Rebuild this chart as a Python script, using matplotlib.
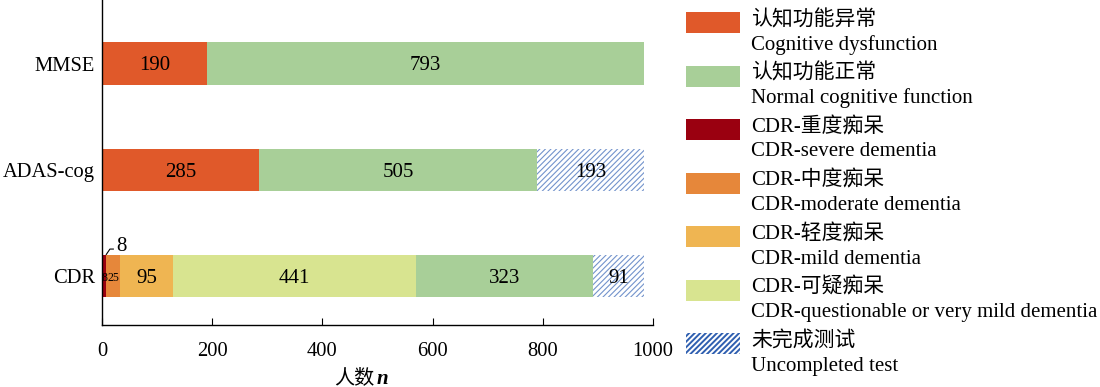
import matplotlib
matplotlib.use("Agg")
import matplotlib.pyplot as plt
from matplotlib.patches import Rectangle
import numpy as np

plt.rcParams['font.family'] = ['Liberation Serif', 'Noto Sans CJK SC']
plt.rcParams['hatch.linewidth'] = 0.8

tests = ["CDR", "ADAS-cog", "MMSE"]
categories_cn = ["认知功能异常", "认知功能正常", "CDR-重度痴呆", "CDR-中度痴呆",
                 "CDR-轻度痴呆", "CDR-可疑痴呆", "未完成测试"]
categories_en = ["Cognitive dysfunction", "Normal cognitive function", "CDR-severe dementia",
                 "CDR-moderate dementia", "CDR-mild dementia",
                 "CDR-questionable or very mild dementia", "Uncompleted test"]
colors = ["#E0592A", "#A8CF98", "#9A0010", "#E6873A", "#EFB552", "#D8E490", "white"]

# segments per test: (category index, value)
mmse_segments = [(0, 190), (1, 793)]
adas_segments = [(0, 285), (1, 505), (6, 193)]
cdr_segments = [(2, 8), (3, 25), (4, 95), (5, 441), (1, 323), (6, 91)]
segments = {"CDR": cdr_segments, "ADAS-cog": adas_segments, "MMSE": mmse_segments}

W, H = 1100, 387
fig = plt.figure(figsize=(11, 3.87), dpi=100)
ax = fig.add_axes([102/W, 1-325/H, (653-102)/W, 325/H])

bar_h = 0.4
hatch_bar = "#7393CC"
hatch_leg = "#2F5FB0"
for yi, t in enumerate(tests):
    left = 0
    for ci, v in segments[t]:
        if ci == 6:
            ax.barh(yi, v, left=left, height=bar_h, color="white", edgecolor=hatch_bar,
                    hatch="//////", linewidth=0)
        else:
            ax.barh(yi, v, left=left, height=bar_h, color=colors[ci], linewidth=0)
        cx = left + v / 2
        if v >= 50:
            ax.text(cx, yi - 0.02, str(v), ha="center", va="center", fontsize=15, color="black")
        else:
            ax.text(cx, yi - 0.02, str(v), ha="center", va="center", fontsize=8.5, color="black")
        left += v

# leader annotation for the smallest CDR segment
sv = cdr_segments[0][1]
ax.plot([sv * 0.9, sv * 1.8, sv * 2.7], [bar_h / 2, 0.255, 0.255], color="black", lw=0.8,
        solid_capstyle="butt")
ax.text(sv * 4.3, 0.28, str(sv), ha="center", va="center", fontsize=15)

ax.set_xlim(0, 1000)
ax.set_ylim(-0.46, 2.6)
ax.set_yticks(range(len(tests)))
ax.set_yticklabels(tests, fontsize=14.8)
ax.tick_params(axis="y", length=0, pad=5)
ax.set_xticks([0, 200, 400, 600, 800, 1000])
ax.tick_params(axis="x", direction="in", length=5, labelsize=14.8, pad=12.5)
for s in ["top", "right"]:
    ax.spines[s].set_visible(False)
ax.spines["left"].set_linewidth(1.0)
ax.spines["bottom"].set_linewidth(1.0)

# x-axis label: Chinese + italic n
fig.text(374 / W, 1 - 379 / H, "人数", ha="right", va="center", fontsize=14.5)
fig.text(377 / W, 1 - 379 / H, "n", ha="left", va="center", fontsize=15, style="italic",
         fontweight="bold")

# legend (manual)
for i in range(len(categories_cn)):
    top = 12 + i * 53.5
    if i == 6:
        with plt.rc_context({'hatch.linewidth': 1.4}):
            r = Rectangle((686 / W, 1 - (top + 21) / H), 54 / W, 21 / H, transform=fig.transFigure,
                          facecolor="white", edgecolor=hatch_leg, hatch="//////", linewidth=0)
    else:
        r = Rectangle((686 / W, 1 - (top + 21) / H), 54 / W, 21 / H, transform=fig.transFigure,
                      facecolor=colors[i], linewidth=0)
    fig.add_artist(r)
    fig.text(751 / W, 1 - (top + 8) / H, categories_cn[i], ha="left", va="center", fontsize=15)
    fig.text(751 / W, 1 - (top + 33) / H, categories_en[i], ha="left", va="center", fontsize=15)

fig.savefig("out.png", dpi=100)
